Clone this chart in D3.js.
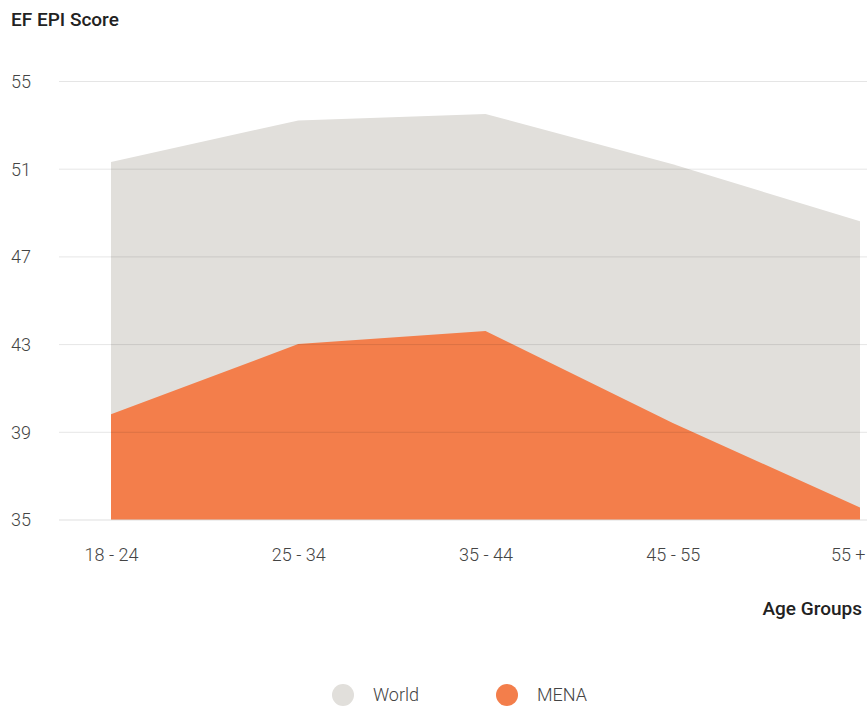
<!DOCTYPE html>
<html lang="en">
<head>
    <meta charset="UTF-8">
    <title>EF EPI Score by Age Groups</title>
    <style>
        body { margin: 0; background: #fff; }
        svg text { font-family: Roboto, "Noto Sans", sans-serif; }
        .tick-label { font-size: 18px; font-weight: 300; fill: #444; }
        .axis-title { font-size: 19px; font-weight: 500; fill: #222; }
    </style>
</head>
<body>
    <svg id="chart"></svg>
    <script src="https://cdn.jsdelivr.net/npm/d3@7"></script>
    <script>
    // data
    const age_groups = ["18 - 24", "25 - 34", "35 - 44", "45 - 55", "55 +"];
    const world_scores = [51.3, 53.2, 53.5, 51.2, 48.6];
    const mena_scores = [39.8, 43.0, 43.6, 39.4, 35.55];
    const y_ticks = [35, 39, 43, 47, 51, 55];
    const series_names = ["World", "MENA"];
    const series_colors = ["#e1dfdb", "#f37e4b"];

    const width = 867, height = 710;
    const svg = d3.select("#chart").attr("width", width).attr("height", height);

    let x_scale = d3.scalePoint()
        .domain(age_groups)
        .range([111, 860]);

    let y_scale = d3.scaleLinear()
        .domain([35, 55])
        .range([519.5, 81]);

    let area_gen = d3.area()
        .x((_, idx) => x_scale(age_groups[idx]))
        .y0(y_scale(35))
        .y1(d => y_scale(d));

    // areas first, grid drawn over them
    [world_scores, mena_scores].forEach((vals, i) => {
        svg.append("path")
            .datum(vals)
            .attr("d", area_gen)
            .style("fill", series_colors[i]);
    });

    let y_axis = d3.axisLeft(y_scale)
        .tickValues(y_ticks)
        .tickSize(-(width - 59))
        .tickFormat(d3.format("d"));

    let y_g = svg.append("g")
        .attr("transform", "translate(59,0)")
        .call(y_axis);
    y_g.select(".domain").remove();
    y_g.selectAll(".tick line")
        .attr("stroke", "#000")
        .attr("stroke-opacity", d => d == 35 ? 0.13 : 0.1);
    y_g.selectAll(".tick text")
        .attr("class", "tick-label")
        .attr("x", -48)
        .attr("dy", "0.35em")
        .style("text-anchor", "start");

    let x_axis = d3.axisBottom(x_scale).tickSize(0);
    let x_g = svg.append("g")
        .attr("transform", "translate(0,547)")
        .call(x_axis);
    x_g.select(".domain").remove();
    x_g.selectAll(".tick text")
        .attr("class", "tick-label")
        .attr("y", 0)
        .attr("dy", "0.75em")
        .attr("font-size", null)
        .attr("font-family", null);
    // last label is pulled inside the right edge
    x_g.selectAll(".tick")
        .filter(d => d == age_groups[age_groups.length - 1])
        .select("text")
        .attr("x", 865 - x_scale(age_groups[age_groups.length - 1]))
        .style("text-anchor", "end");

    svg.append("text")
        .attr("class", "axis-title")
        .attr("x", 11)
        .attr("y", 26)
        .text("EF EPI Score");

    svg.append("text")
        .attr("class", "axis-title")
        .attr("x", 862)
        .attr("y", 615)
        .style("text-anchor", "end")
        .text("Age Groups");

    // legend
    const legend_x = [343, 507];
    series_names.forEach((name, i) => {
        let g = svg.append("g").attr("transform", "translate(" + legend_x[i] + ",695)");
        g.append("circle").attr("r", 11).style("fill", series_colors[i]);
        g.append("text")
            .attr("class", "tick-label")
            .attr("x", 30)
            .attr("dy", "0.35em")
            .text(name);
    });
    </script>
</body>
</html>
